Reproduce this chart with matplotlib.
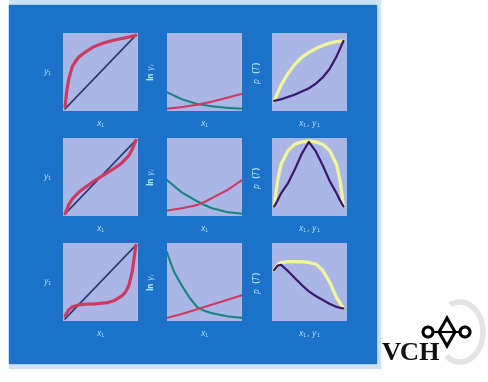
import matplotlib.pyplot as plt
from matplotlib.patches import Rectangle, Circle, Polygon, Arc

# ---- data (normalised 0..1) ----
diag = [0.0, 1.0]

# row 1
r1_xy_x = [0, 0.02, 0.05, 0.1, 0.15, 0.2, 0.3, 0.4, 0.5, 0.6, 0.7, 0.8, 0.9, 1.0]
r1_xy_y = [0.03, 0.22, 0.40, 0.57, 0.65, 0.71, 0.78, 0.84, 0.88, 0.91, 0.935, 0.955, 0.975, 1.0]
r1_g_x = [0, 0.2, 0.4, 0.6, 0.8, 1.0]
r1_g1 = [0.24, 0.15, 0.09, 0.06, 0.04, 0.03]
r1_g2 = [0.03, 0.05, 0.08, 0.12, 0.17, 0.22]
r1_p_x = [0, 0.1, 0.2, 0.3, 0.4, 0.5, 0.6, 0.7, 0.8, 0.9, 1.0]
r1_bub = [0.13, 0.33, 0.48, 0.60, 0.69, 0.75, 0.80, 0.84, 0.87, 0.89, 0.90]
r1_dew = [0.13, 0.15, 0.18, 0.21, 0.25, 0.29, 0.35, 0.43, 0.54, 0.70, 0.90]

# row 2
r2_xy_x = [0, 0.05, 0.1, 0.2, 0.3, 0.4, 0.5, 0.6, 0.7, 0.8, 0.9, 0.95, 1.0]
r2_xy_y = [0.0, 0.12, 0.20, 0.30, 0.37, 0.44, 0.50, 0.56, 0.62, 0.69, 0.79, 0.88, 1.0]
r2_g_x = [0, 0.2, 0.4, 0.5, 0.6, 0.8, 1.0]
r2_g1 = [0.46, 0.30, 0.19, 0.14, 0.10, 0.05, 0.03]
r2_g2 = [0.07, 0.10, 0.14, 0.18, 0.23, 0.33, 0.46]
r2_p_x = [0, 0.05, 0.1, 0.2, 0.3, 0.4, 0.5, 0.6, 0.7, 0.8, 0.9, 0.95, 1.0]
r2_bub = [0.12, 0.45, 0.66, 0.84, 0.92, 0.95, 0.96, 0.95, 0.92, 0.84, 0.66, 0.45, 0.12]
r2_dew = [0.12, 0.20, 0.29, 0.42, 0.60, 0.80, 0.95, 0.83, 0.65, 0.45, 0.29, 0.20, 0.12]

# row 3
r3_xy_x = [0, 0.05, 0.1, 0.2, 0.3, 0.4, 0.5, 0.6, 0.7, 0.8, 0.85, 0.9, 0.95, 1.0]
r3_xy_y = [0.04, 0.12, 0.16, 0.19, 0.20, 0.20, 0.21, 0.22, 0.25, 0.31, 0.36, 0.45, 0.65, 1.0]
r3_g1_x = [0, 0.05, 0.1, 0.2, 0.3, 0.4, 0.5, 0.6, 0.8, 1.0]
r3_g1 = [0.88, 0.74, 0.62, 0.45, 0.30, 0.18, 0.13, 0.10, 0.06, 0.04]
r3_g2_x = [0, 0.2, 0.4, 0.6, 0.8, 1.0]
r3_g2 = [0.04, 0.09, 0.15, 0.21, 0.27, 0.33]
r3_p_x = [0, 0.05, 0.1, 0.2, 0.3, 0.4, 0.5, 0.6, 0.7, 0.8, 0.9, 1.0]
r3_bub = [0.65, 0.72, 0.75, 0.76, 0.76, 0.76, 0.75, 0.73, 0.65, 0.50, 0.30, 0.16]
r3_dew = [0.65, 0.71, 0.72, 0.64, 0.55, 0.46, 0.38, 0.32, 0.27, 0.22, 0.18, 0.16]

xy_rows = [(r1_xy_x, r1_xy_y), (r2_xy_x, r2_xy_y), (r3_xy_x, r3_xy_y)]
g_rows = [(r1_g_x, r1_g1, r1_g_x, r1_g2), (r2_g_x, r2_g1, r2_g_x, r2_g2),
          (r3_g1_x, r3_g1, r3_g2_x, r3_g2)]
p_rows = [(r1_p_x, r1_bub, r1_dew), (r2_p_x, r2_bub, r2_dew), (r3_p_x, r3_bub, r3_dew)]

col_xlabels = ['$x_1$', '$x_1$', '$x_1,\\,y_1$']
col_ylabels = ['$y_1$', 'ln $\\gamma_i$', '$p$  ($T$)']

# colours
BLUE = '#1c72c8'
PANEL = '#a9b6e6'
RED = '#cf3a62'
NAVY = '#27386c'
TEAL = '#17867e'
YELLOW = '#eef59a'
PURPLE = '#3a1a6e'
LABEL = '#b4e4ff'

W, H = 488, 382
fig = plt.figure(figsize=(W / 100, H / 100), dpi=100)
fig.patch.set_facecolor('white')

# background frame, drawn in a full-figure axes underneath the panels
bg = fig.add_axes([0, 0, 1, 1], zorder=-10)
bg.set_xlim(0, W)
bg.set_ylim(H, 0)
bg.axis('off')
bg.add_patch(Rectangle((9, 0), 371, 368, color='#cde2f4'))
bg.add_patch(Rectangle((9, 5), 367, 358, color=BLUE))

col_left = [63, 167, 272]
row_top = [33, 138, 243]
pw, ph = 75, 78

for r in range(3):
    for c in range(3):
        ax = fig.add_axes([col_left[c] / W, 1 - (row_top[r] + ph) / H, pw / W, ph / H])
        ax.set_facecolor(PANEL)
        for s in ax.spines.values():
            s.set_visible(False)
        ax.set_xticks([])
        ax.set_yticks([])
        if c == 0:
            x, y = xy_rows[r]
            ax.plot(diag, diag, color=NAVY, lw=1.2)
            ax.plot(x, y, color=RED, lw=2.3, solid_capstyle='round')
            ax.set_xlim(-0.03, 1.03)
            ax.set_ylim(-0.03, 1.03)
        elif c == 1:
            x1, g1, x2, g2 = g_rows[r]
            ax.plot(x1, g1, color=TEAL, lw=1.5)
            ax.plot(x2, g2, color=RED, lw=1.5)
            ax.set_xlim(0, 1)
            ax.set_ylim(0, 1)
        else:
            x, bub, dew = p_rows[r]
            ax.plot(x, bub, color=YELLOW, lw=2.4, solid_capstyle='round')
            ax.plot(x, dew, color=PURPLE, lw=1.6, solid_capstyle='round')
            ax.set_xlim(-0.03, 1.05)
            ax.set_ylim(0, 1)
        ax.text(0.5, -0.17, col_xlabels[c], transform=ax.transAxes, ha='center',
                va='center', fontsize=5.5, color=LABEL, fontweight='bold')
        ax.text(-0.2, 0.5, col_ylabels[c], transform=ax.transAxes, ha='center',
                va='center', fontsize=5.5, color=LABEL, fontweight='bold',
                rotation=0 if c == 0 else 90)

# publisher logo
lg = fig.add_axes([0, 0, 1, 1], zorder=5)
lg.set_xlim(0, W)
lg.set_ylim(H, 0)
lg.axis('off')
lg.patch.set_alpha(0)
lg.add_patch(Arc((460, 332), 46, 60, theta1=-110, theta2=120, lw=4, color='#e4e4e4'))
lg.add_patch(Circle((428, 332), 5, fill=False, lw=2.2, color='black'))
lg.add_patch(Circle((465, 332), 5, fill=False, lw=2.2, color='black'))
lg.add_patch(Polygon([[447, 318], [455, 332], [447, 346], [439, 332]], closed=True,
                     fill=False, lw=2.2, color='black'))
lg.plot([433, 460], [332, 332], color='black', lw=1.5)
lg.text(411, 354, 'VCH', ha='center', va='center', fontsize=19, fontweight='bold',
        family='Liberation Serif', color='#111111')

fig.savefig('out.png', dpi=100)
